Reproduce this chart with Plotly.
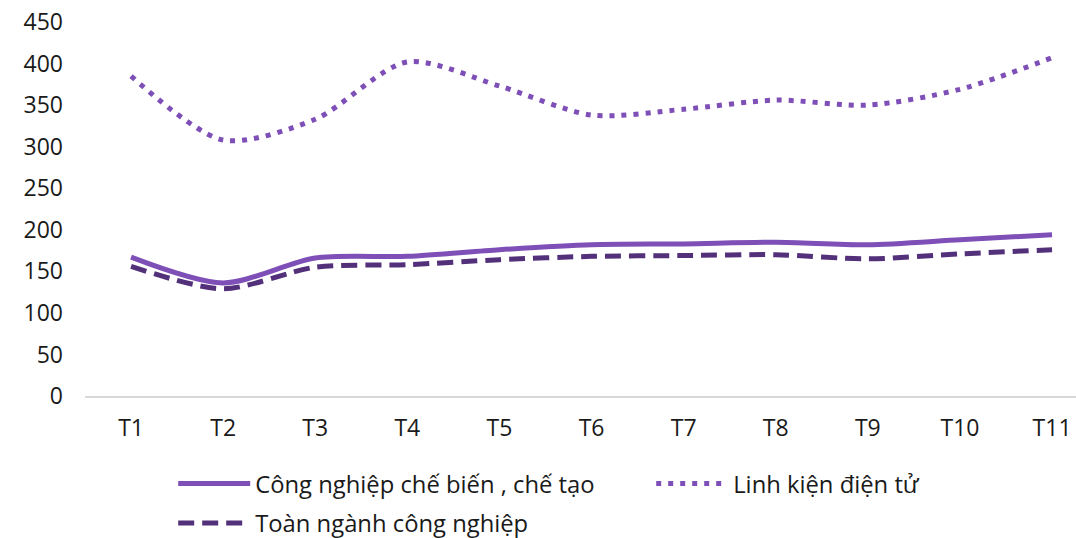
import plotly.graph_objects as go

months = ["T1", "T2", "T3", "T4", "T5", "T6", "T7", "T8", "T9", "T10", "T11"]
che_bien = [167, 136, 166, 168, 176, 182, 183, 185, 182, 188, 194]
linh_kien = [385, 308, 333, 402, 373, 338, 345, 356, 350, 369, 407]
toan_nganh = [156, 129, 155, 158, 164, 168, 169, 170, 165, 171, 176]
y_ticks = [0, 50, 100, 150, 200, 250, 300, 350, 400, 450]

FONT = "Open Sans, sans-serif"

fig = go.Figure()
fig.add_trace(go.Scatter(
    x=months, y=che_bien, name="Công nghiệp chế biến , chế tạo",
    mode="lines", line=dict(color="#7E4FB6", width=5, shape="spline", smoothing=0.8),
    legend="legend",
))
fig.add_trace(go.Scatter(
    x=months, y=linh_kien, name="Linh kiện điện tử",
    mode="lines", line=dict(color="#7E4FB6", width=5, dash="5px,7px", shape="spline", smoothing=0.8),
    legend="legend",
))
fig.add_trace(go.Scatter(
    x=months, y=toan_nganh, name="Toàn ngành công nghiệp",
    mode="lines", line=dict(color="#52307A", width=5, dash="16px,8px", shape="spline", smoothing=0.8),
    legend="legend2",
))

fig.update_layout(
    width=1076, height=538,
    margin=dict(l=85, r=0, t=22, b=142, autoexpand=False),
    paper_bgcolor="white", plot_bgcolor="white",
    font=dict(family=FONT, size=23, color="#1a1a1a"),
    xaxis=dict(
        type="category", range=[-0.5, 10.26],
        showgrid=False, showline=True, linecolor="#d9d9d9", linewidth=1.5,
        ticks="", tickfont=dict(size=23), ticklabelstandoff=11,
        ticklabeloverflow="allow",
    ),
    yaxis=dict(
        range=[0, 450], tickvals=y_ticks, showgrid=False, zeroline=False,
        showline=False, ticks="", tickfont=dict(size=23), ticklabelstandoff=21,
        ticklabeloverflow="allow",
    ),
    legend=dict(
        orientation="h", x=0.089, y=-0.175, xanchor="left", yanchor="top",
        font=dict(size=23.8), entrywidth=391, entrywidthmode="pixels",
        tracegroupgap=0, itemwidth=72,
    ),
    legend2=dict(
        orientation="h", x=0.089, y=-0.281, xanchor="left", yanchor="top",
        font=dict(size=23.8), tracegroupgap=0, itemwidth=72,
    ),
    showlegend=True,
)

fig.write_html(
    "out.html",
    config={"displayModeBar": False},
    post_script="document.body.style.margin='0';",
)
